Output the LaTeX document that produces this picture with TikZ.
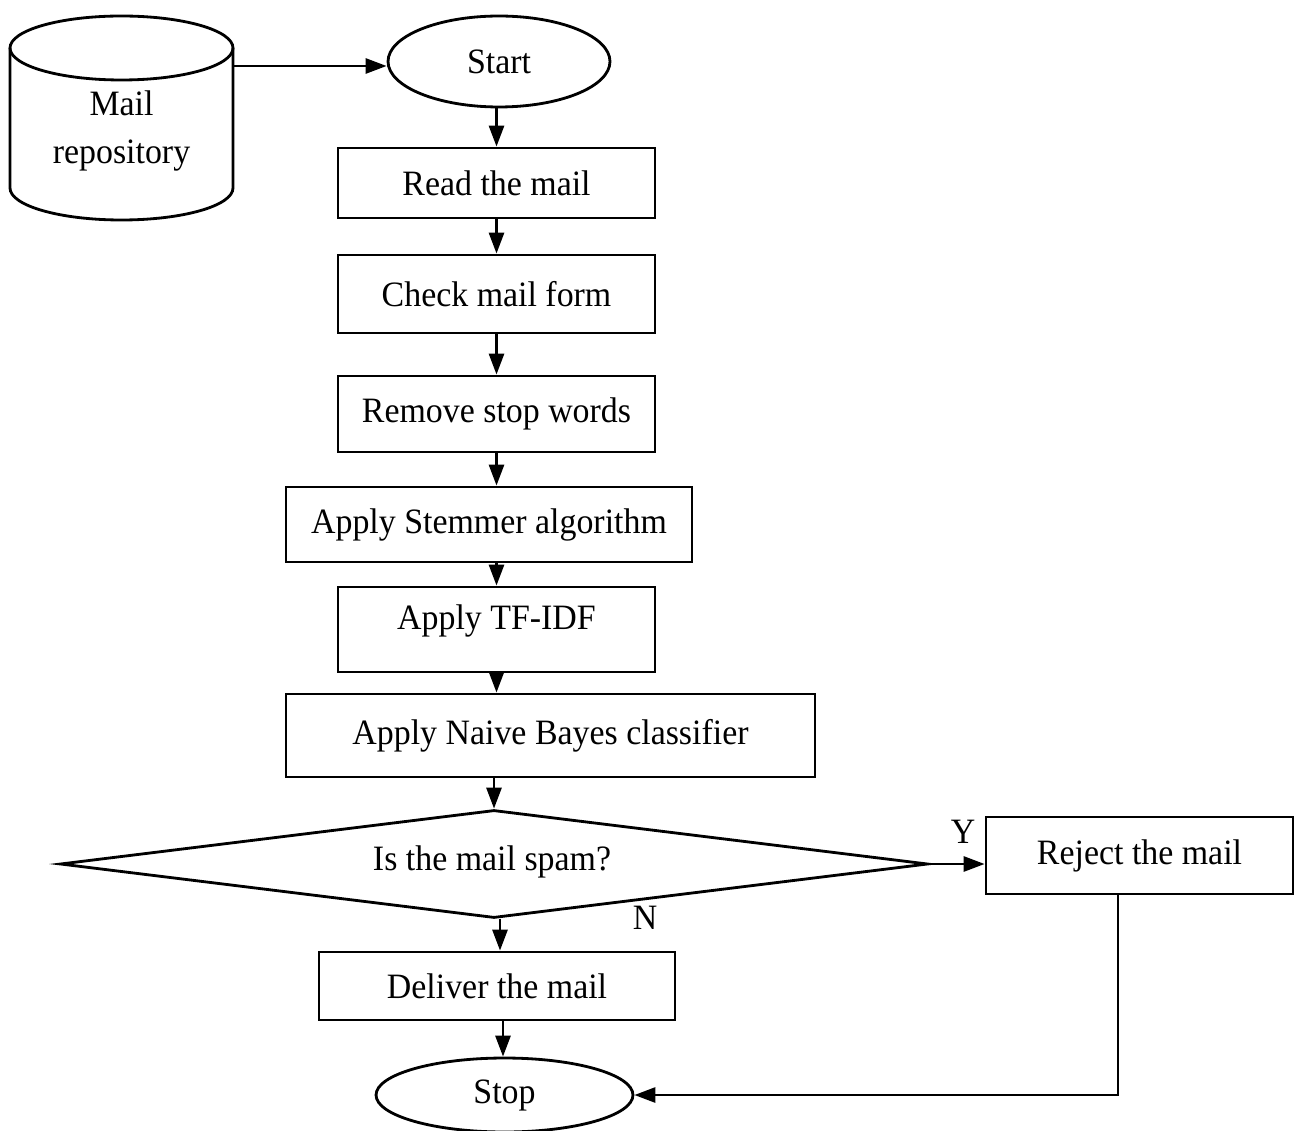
\documentclass[tikz,border=0pt]{standalone}
\usepackage{fontspec}
\setmainfont{Liberation Serif}[FakeStretch=0.95]
\usetikzlibrary{shapes.geometric,arrows.meta}
\begin{document}
\begin{tikzpicture}[x=0.02cm,y=-0.02cm,
  every node/.style={font=\fontsize{20.3}{25}\selectfont, inner sep=0pt},
  line/.style={line width=1.6pt, draw=black},
  proc/.style={line, rectangle},
  term/.style={line, ellipse},
  arr/.style={line width=1.6pt, -{Triangle[length=0.42cm,width=0.3cm]}}]
\useasboundingbox (0,0) rectangle (1300,1131);

% mail repository (cylinder)
\node (repo) [minimum width=4.46cm, minimum height=4.08cm, align=center] at (121.5,118) {};
\draw[line] (10,48) arc[start angle=180, end angle=-180, x radius=111.5, y radius=32];
\draw[line] (10,48) -- (10,188) arc[start angle=180, end angle=0, x radius=111.5, y radius=32] -- (233,48);
\node (repotext) [align=center] at (121.5,131) {Mail\\[2pt]repository};

% terminals and process steps
\node (start) [term, minimum width=4.44cm, minimum height=1.82cm] at (499,61.5) {Start};
\node (read) [proc, minimum width=6.34cm, minimum height=1.40cm] at (496.5,183) {Read the mail};
\node (check) [proc, minimum width=6.34cm, minimum height=1.56cm] at (496.5,294) {Check mail form};
\node (remove) [proc, minimum width=6.34cm, minimum height=1.52cm] at (496.5,414) {Remove stop words};
\node (stem) [proc, minimum width=8.12cm, minimum height=1.50cm] at (489,524.5) {Apply Stemmer algorithm};
\node (tfidf) [proc, minimum width=6.34cm, minimum height=1.70cm] at (496.5,629.5) {};
\node (tfidftext) at (496.5,621) {Apply TF-IDF};
\node (naive) [proc, minimum width=10.58cm, minimum height=1.66cm] at (550.5,735.5) {Apply Naive Bayes classifier};
\node (spam) [line, diamond, aspect=8, minimum width=17.36cm, minimum height=2.16cm] at (494,864) {};
\node (spamtext) at (492,862) {Is the mail spam?};
\node (reject) [proc, minimum width=6.14cm, minimum height=1.54cm] at (1139.5,855.5) {Reject the mail};
\node (deliver) [proc, minimum width=7.12cm, minimum height=1.36cm] at (497,986) {Deliver the mail};
\node (stop) [term, minimum width=5.14cm, minimum height=1.48cm] at (504.5,1095) {Stop};

% branch labels
\node (ylab) at (963,832) {Y};
\node (nlab) at (645,918) {N};

% connectors
\draw[arr] (repo.east |- 0,66) -- (start.west |- 0,66);
\draw[arr] (start.south -| read.north) -- (read.north);
\draw[arr] (read.south) -- (check.north);
\draw[arr] (check.south) -- (remove.north);
\draw[arr] (remove.south) -- (remove.south |- stem.north);
\draw[arr] (tfidf.north |- stem.south) -- (tfidf.north);
\draw[arr] (tfidf.south) -- (tfidf.south |- naive.north);
\draw[arr] (spam.north |- naive.south) -- (spam.north);
\draw[arr] (spam.east) -- (reject.west |- spam.east);
\draw[arr] ([xshift=0.12cm]spam.south) -- ([xshift=0.12cm]spam.south |- deliver.north);
\draw[arr] ([xshift=0.12cm]deliver.south) -- ([xshift=0.12cm]deliver.south |- stop.north);
\draw[arr] ([xshift=-0.43cm]reject.south) |- (stop.east);
\end{tikzpicture}
\end{document}
